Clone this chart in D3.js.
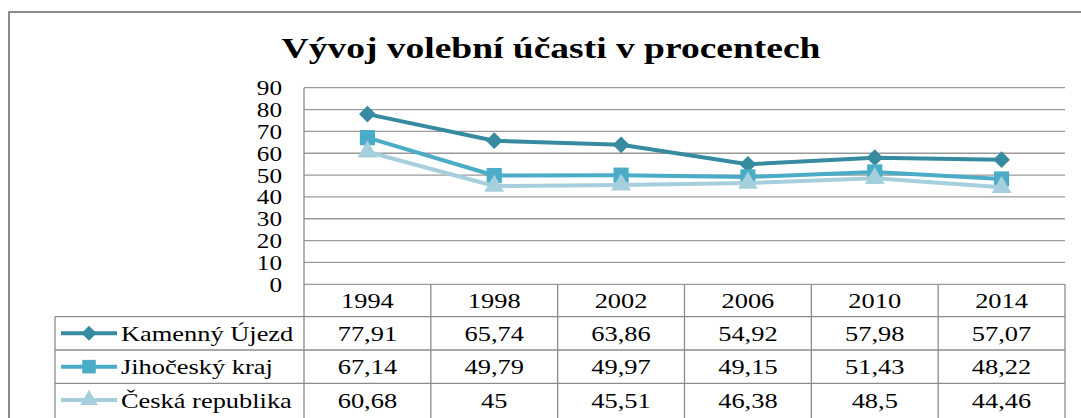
<!DOCTYPE html>
<html lang="cs">
<head>
<meta charset="UTF-8">
<script src="https://d3js.org/d3.v7.min.js"></script>
<style>
  body { margin: 0; background: #fff; }
</style>
</head>
<body>
<div id="chart"></div>
<script>
var years = ["1994", "1998", "2002", "2006", "2010", "2014"];
var seriesNames = ["Kamenný Újezd", "Jihočeský kraj", "Česká republika"];
var kamenny = [77.91, 65.74, 63.86, 54.92, 57.98, 57.07];
var jihocesky = [67.14, 49.79, 49.97, 49.15, 51.43, 48.22];
var ceska = [60.68, 45, 45.51, 46.38, 48.5, 44.46];
var yTicks = [0, 10, 20, 30, 40, 50, 60, 70, 80, 90];

var serif = "Liberation Serif";
var colors = ["#378ba1", "#4aacc6", "#a5cfdc"];
var symbols = ["diamond", "square", "triangle"];
var symSizes = [140, 230, 170];

var series = [kamenny, jihocesky, ceska].map(function (vals, i) {
    return { name: seriesNames[i], values: vals, color: colors[i], symbol: symbols[i], size: symSizes[i] };
});

var width = 1081, height = 418;
var plotLeft = 304, plotRight = 1065, plotTop = 87.7, plotBottom = 284.3;
var tableLeft = 55, headerH = 32.4, rowH = 33.3;
var stretch = 1.2;

var svg = d3.select("#chart").append("svg")
    .attr("width", width)
    .attr("height", height);

function marker(type, size) {
    if (type === "triangle") return d3.symbol().type(d3.symbolTriangle).size(size)();
    return d3.symbol().type(d3.symbolSquare).size(size)();
}
function markerRot(type) { return type === "diamond" ? " rotate(45)" : ""; }

// stretch text horizontally like the original picture
function widen(sel, k) {
    sel.each(function () {
        var w = this.getComputedTextLength();
        d3.select(this).attr("textLength", w * k).attr("lengthAdjust", "spacingAndGlyphs");
    });
}

// outer frame
svg.append("rect")
    .attr("x", 9).attr("y", 12)
    .attr("width", 1200).attr("height", 600)
    .attr("fill", "none")
    .attr("stroke", "#8c8c8c")
    .attr("stroke-width", 2);

var x = d3.scaleBand().domain(years).range([plotLeft, plotRight]);
var y = d3.scaleLinear().domain([0, 90]).range([plotBottom, plotTop]);

// title
svg.append("text")
    .attr("x", 551).attr("y", 58)
    .attr("text-anchor", "middle")
    .style("font-family", serif)
    .style("font-size", "30px")
    .style("font-weight", "bold")
    .text("Vývoj volební účasti v procentech")
    .call(widen, 1.25);

// gridlines
svg.append("g").selectAll("line")
    .data(yTicks)
    .enter().append("line")
    .attr("x1", plotLeft).attr("x2", plotRight)
    .attr("y1", function (d) { return y(d); })
    .attr("y2", function (d) { return y(d); })
    .attr("stroke", "#9a9a9a")
    .attr("stroke-width", 1.3);

// y axis
var yAxis = svg.append("g")
    .attr("transform", "translate(" + plotLeft + ",0)")
    .call(d3.axisLeft(y).tickValues(yTicks).tickSize(0).tickPadding(22));
yAxis.attr("font-family", null).attr("font-size", null);
yAxis.select(".domain").attr("stroke", "#8c8c8c").attr("stroke-width", 1.3)
    .attr("d", "M0," + plotTop + "V" + height);
yAxis.selectAll("text")
    .style("font-family", serif)
    .style("font-size", "21px")
    .attr("fill", "#000")
    .attr("dy", "0.33em")
    .call(widen, stretch);

// lines and markers
var line = d3.line()
    .x(function (d, i) { return x(years[i]) + x.bandwidth() / 2; })
    .y(function (d) { return y(d); });

var sg = svg.append("g").selectAll("g")
    .data(series)
    .enter().append("g");

sg.append("path")
    .attr("d", function (d) { return line(d.values); })
    .attr("fill", "none")
    .attr("stroke", function (d) { return d.color; })
    .attr("stroke-width", 4)
    .attr("stroke-linejoin", "round");

sg.selectAll(".mk")
    .data(function (d) { return d.values.map(function (v, i) { return { v: v, i: i, s: d }; }); })
    .enter().append("path")
    .attr("class", "mk")
    .attr("transform", function (d) {
        return "translate(" + (x(years[d.i]) + x.bandwidth() / 2) + "," + y(d.v) + ")" + markerRot(d.s.symbol);
    })
    .attr("d", function (d) { return marker(d.s.symbol, d.s.size); })
    .attr("fill", function (d) { return d.s.color; });

// data table
var tableTop = plotBottom;
var rowY = function (r) { return tableTop + headerH + r * rowH; };
var tbl = svg.append("g").attr("stroke", "#8c8c8c").attr("stroke-width", 1.3);

[0, 1, 2].forEach(function (r) {
    tbl.append("line").attr("x1", tableLeft).attr("x2", plotRight)
        .attr("y1", rowY(r)).attr("y2", rowY(r));
});
tbl.append("line").attr("x1", tableLeft).attr("x2", tableLeft)
    .attr("y1", rowY(0)).attr("y2", height);
years.forEach(function (yr) {
    tbl.append("line").attr("x1", x(yr) + x.bandwidth()).attr("x2", x(yr) + x.bandwidth())
        .attr("y1", tableTop).attr("y2", height);
});

// header years
svg.append("g").selectAll("text")
    .data(years)
    .enter().append("text")
    .attr("x", function (d) { return x(d) + x.bandwidth() / 2; })
    .attr("y", tableTop + headerH / 2)
    .attr("dy", "0.35em")
    .attr("text-anchor", "middle")
    .style("font-family", serif)
    .style("font-size", "22px")
    .text(function (d) { return d; })
    .call(widen, stretch);

var fmt = function (v) { return String(v).replace(".", ","); };

var rows = svg.append("g").selectAll("g")
    .data(series)
    .enter().append("g")
    .attr("transform", function (d, r) { return "translate(0," + (rowY(r) + rowH / 2) + ")"; });

// legend keys
rows.append("line")
    .attr("x1", 61).attr("x2", 117)
    .attr("stroke", function (d) { return d.color; })
    .attr("stroke-width", 4);
rows.append("path")
    .attr("transform", function (d) { return "translate(89,0)" + markerRot(d.symbol); })
    .attr("d", function (d) { return marker(d.symbol, d.size * 0.8); })
    .attr("fill", function (d) { return d.color; });
rows.append("text")
    .attr("x", 121)
    .attr("dy", "0.35em")
    .style("font-family", serif)
    .style("font-size", "22px")
    .text(function (d) { return d.name; })
    .call(widen, stretch);

rows.selectAll(".val")
    .data(function (d) { return d.values; })
    .enter().append("text")
    .attr("class", "val")
    .attr("x", function (d, i) { return x(years[i]) + x.bandwidth() / 2; })
    .attr("dy", "0.35em")
    .attr("text-anchor", "middle")
    .style("font-family", serif)
    .style("font-size", "22px")
    .text(function (d) { return fmt(d); })
    .call(widen, stretch);
</script>
</body>
</html>
